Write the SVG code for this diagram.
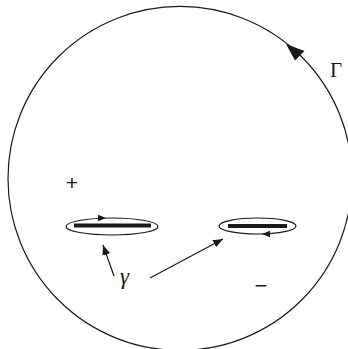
<svg xmlns="http://www.w3.org/2000/svg" width="348" height="349" viewBox="0 0 348 349">
<defs>
<style>
.ln{fill:none;stroke:#1a1a1a;stroke-width:1.2}
.bar{stroke:#1a1a1a;stroke-width:4;stroke-linecap:butt}
.t{font-family:"Liberation Serif",serif;fill:#1a1a1a}
.s{font-family:"Liberation Sans",sans-serif;fill:#1a1a1a}
</style>
<marker id="ah" viewBox="0 0 10 8" refX="10" refY="4" markerWidth="10" markerHeight="8" markerUnits="userSpaceOnUse" orient="auto">
<path d="M0,0 L10,4 L0,8 Z" fill="#1a1a1a"/>
</marker>
</defs>
<rect width="348" height="349" fill="#fff"/>
<g id="contour">
<circle class="ln" cx="180" cy="178.4" r="172"/>
<polygon points="286,44 304.5,51 295,60.5" fill="#1a1a1a"/>
<text class="t" x="330" y="77" font-size="21">Γ</text>
</g>
<g id="cut-left">
<ellipse class="ln" cx="112" cy="226.5" rx="46" ry="8.5"/>
<line class="bar" x1="74" y1="225.5" x2="151" y2="225.5"/>
<polygon points="106,218 98,214.8 98,221.2" fill="#1a1a1a"/>
</g>
<g id="cut-right">
<ellipse class="ln" cx="257.5" cy="226" rx="38.5" ry="8"/>
<line class="bar" x1="228" y1="226" x2="287" y2="226"/>
<polygon points="262,234 270,230.8 270,237.2" fill="#1a1a1a"/>
</g>
<g id="labels">
<text class="s" x="72" y="190" font-size="21" text-anchor="middle">+</text>
<text class="s" x="261" y="293" font-size="22" text-anchor="middle">−</text>
<text class="t" x="120" y="284" font-size="23" font-style="italic">γ</text>
</g>
<g id="connectors">
<line class="ln" x1="114" y1="276" x2="103" y2="245" marker-end="url(#ah)"/>
<line class="ln" x1="150" y1="278" x2="223" y2="239" marker-end="url(#ah)"/>
</g>
</svg>
